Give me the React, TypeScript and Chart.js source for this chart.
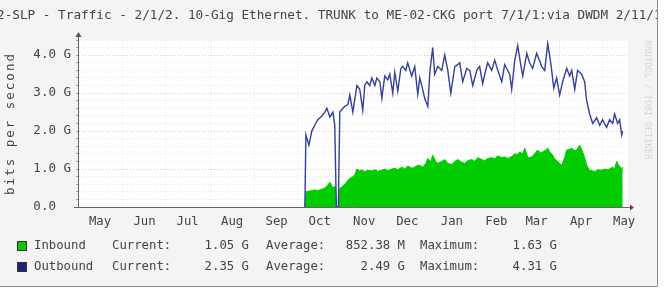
import React, { useEffect, useRef } from 'react';
import { Chart, registerables } from 'chart.js';
Chart.register(...registerables);

const TITLE = '2-SLP - Traffic - 2/1/2. 10-Gig Ethernet. TRUNK to ME-02-CKG port 7/1/1:via DWDM 2/11/1';
const Y_TITLE = 'bits per second';
const WATERMARK = 'RRDTOOL / TOBI OETIKER';

const MONTH_LABELS = ['May', 'Jun', 'Jul', 'Aug', 'Sep', 'Oct', 'Nov', 'Dec', 'Jan', 'Feb', 'Mar', 'Apr', 'May'];
const MONTH_START_DAYS = [0, 31, 61, 92, 123, 153, 184, 214, 245, 276, 304, 335, 365];
const X_MIN_DAY = 0;
const X_MAX_DAY = 383;

const Y_MAX = 4.4;
const Y_GRID_VALUES = [0, 0.2, 0.4, 0.6, 0.8, 1, 1.2, 1.4, 1.6, 1.8, 2, 2.2, 2.4, 2.6, 2.8, 3, 3.2, 3.4, 3.6, 3.8, 4, 4.2, 4.4];
const Y_LABELED = [0, 1, 2, 3, 4];
const Y_LABELS = ['0.0  ', '1.0 G', '2.0 G', '3.0 G', '4.0 G'];

// Outbound (Gbit/s), day index counted from May 1
const OUT_DAYS = [158.0, 158.7, 160.8, 162.8, 164.9, 167.0, 169.8, 171.9, 173.3, 175.4, 177.5, 178.8, 179.9, 181.3, 182.3, 184.4, 185.8, 187.9, 189.3, 191.4, 194.2, 196.2, 198.3, 199.7, 201.1, 203.2, 204.6, 206.7, 208.1, 210.2, 211.6, 213.6, 215.7, 217.1, 219.2, 220.6, 222.7, 224.8, 226.2, 228.3, 229.6, 232.4, 234.5, 236.6, 238.0, 239.4, 241.5, 243.6, 245.0, 247.0, 248.4, 250.5, 253.3, 255.4, 257.5, 259.6, 262.4, 264.4, 265.8, 267.9, 270.7, 272.8, 274.9, 277.7, 279.7, 281.8, 283.9, 285.3, 288.1, 290.2, 292.3, 295.1, 297.1, 298.5, 300.6, 302.0, 304.1, 306.2, 308.3, 309.7, 312.5, 314.5, 316.6, 319.4, 321.5, 322.9, 325.0, 327.1, 329.2, 331.3, 333.3, 335.4, 337.5, 340.3, 342.4, 343.8, 345.9, 347.9, 350.7, 352.8, 354.2, 356.3, 358.4, 361.2, 363.3, 365.3, 368.1, 370.2, 372.3, 373.7, 375.8, 377.2, 378.6, 379.3];
const OUT_GBPS = [0, 1.9, 1.63, 2.0, 2.16, 2.3, 2.4, 2.5, 2.6, 2.37, 2.5, 2.15, 0, 0, 2.5, 2.6, 2.65, 2.7, 2.95, 2.5, 3.2, 3.1, 2.55, 3.2, 3.3, 3.2, 3.4, 3.2, 3.4, 3.3, 2.87, 3.45, 3.35, 3.5, 3.0, 3.55, 3.05, 3.65, 3.7, 3.6, 3.8, 3.45, 3.7, 2.97, 3.4, 3.2, 2.85, 2.65, 3.55, 4.2, 3.5, 3.7, 3.6, 4.0, 3.6, 3.0, 3.7, 3.75, 3.8, 3.3, 3.65, 3.6, 3.2, 3.6, 3.7, 3.25, 3.6, 3.8, 3.6, 3.87, 3.6, 3.3, 3.75, 3.65, 3.5, 3.1, 3.85, 4.25, 3.75, 3.45, 4.05, 3.8, 3.65, 4.05, 3.85, 3.7, 3.6, 4.31, 3.8, 3.13, 3.4, 2.95, 3.3, 3.65, 3.45, 3.6, 3.1, 3.6, 3.5, 3.3, 2.8, 2.45, 2.2, 2.35, 2.15, 2.3, 2.1, 2.3, 2.2, 2.45, 2.2, 2.3, 1.9, 2.0];

// Inbound (Gbit/s)
const IN_DAYS = [158.0, 158.7, 161.5, 164.9, 167.0, 169.8, 171.9, 173.3, 175.4, 177.5, 179.2, 179.9, 181.3, 182.0, 184.4, 185.8, 187.9, 189.3, 191.4, 192.8, 194.2, 196.2, 197.6, 199.7, 201.8, 204.6, 206.7, 208.8, 211.6, 213.6, 215.7, 218.5, 220.6, 222.7, 225.5, 227.6, 229.6, 232.4, 234.5, 236.6, 238.0, 240.1, 242.2, 243.6, 245.7, 247.0, 249.1, 250.5, 253.3, 255.4, 257.5, 260.3, 262.4, 264.4, 267.2, 269.3, 271.4, 274.2, 276.3, 278.4, 281.1, 283.2, 285.3, 288.1, 290.2, 292.3, 295.1, 297.1, 299.2, 300.6, 302.7, 304.1, 306.2, 307.6, 309.7, 311.1, 313.2, 316.0, 318.0, 320.1, 322.2, 323.6, 325.7, 327.1, 328.5, 329.9, 331.9, 334.0, 336.8, 338.9, 340.3, 342.4, 343.8, 345.9, 347.3, 349.4, 351.4, 352.8, 354.2, 356.3, 358.4, 359.8, 361.9, 364.7, 366.7, 368.8, 370.9, 372.3, 373.7, 375.1, 376.5, 377.9, 378.6, 379.3];
const IN_GBPS = [0, 0.4, 0.42, 0.45, 0.43, 0.47, 0.5, 0.55, 0.65, 0.5, 0.55, 0, 0, 0.48, 0.55, 0.6, 0.7, 0.75, 0.8, 0.85, 1.0, 0.95, 0.98, 0.93, 0.97, 0.95, 0.98, 0.94, 0.97, 1.0, 0.96, 1.0, 1.02, 0.98, 1.05, 1.0, 1.08, 1.02, 1.05, 1.1, 1.1, 1.05, 1.15, 1.28, 1.2, 1.37, 1.2, 1.15, 1.2, 1.25, 1.15, 1.12, 1.2, 1.25, 1.18, 1.15, 1.22, 1.25, 1.2, 1.3, 1.25, 1.22, 1.28, 1.3, 1.27, 1.35, 1.3, 1.32, 1.28, 1.3, 1.35, 1.4, 1.38, 1.45, 1.4, 1.55, 1.3, 1.32, 1.4, 1.5, 1.42, 1.45, 1.5, 1.55, 1.45, 1.4, 1.28, 1.2, 1.1, 1.3, 1.5, 1.52, 1.55, 1.48, 1.5, 1.63, 1.45, 1.3, 1.1, 0.97, 0.95, 0.93, 0.98, 0.97, 1.0, 0.98, 1.02, 1.05, 1.0, 1.2, 1.1, 1.05, 0.95, 1.05];

const LEGEND_NAMES = ['Inbound', 'Outbound'];
const LEGEND_COLORS = ['#00cc00', '#1a237e'];
const LEGEND_CURRENT = ['1.05 G', '2.35 G'];
const LEGEND_AVERAGE = ['852.38 M', '2.49 G'];
const LEGEND_MAXIMUM = ['1.63 G', '4.31 G'];

const MONO = '"DejaVu Sans Mono", monospace';
const TEXT = '#444';

export default function App() {
  const ref = useRef<HTMLCanvasElement>(null);

  useEffect(() => {
    document.body.style.margin = '0';
    const canvas = ref.current!;

    const decor = {
      id: 'decor',
      beforeDraw(chart: any) {
        const { ctx, chartArea: a, width, height } = chart;
        ctx.save();
        ctx.fillStyle = '#ffffff';
        ctx.fillRect(0, 0, width, height);
        ctx.fillStyle = '#f4f4f4';
        ctx.fillRect(0, 0, 657, 286);
        ctx.fillStyle = '#ffffff';
        ctx.fillRect(a.left, a.top, a.right - a.left, a.bottom - a.top);
        // frame
        ctx.strokeStyle = '#8a8a8a';
        ctx.lineWidth = 1;
        ctx.beginPath();
        ctx.moveTo(657.5, 0);
        ctx.lineTo(657.5, 286.5);
        ctx.lineTo(0, 286.5);
        ctx.stroke();
        // title
        ctx.save();
        ctx.beginPath();
        ctx.rect(0, 0, 657, 30);
        ctx.clip();
        ctx.fillStyle = TEXT;
        ctx.font = `12.7px ${MONO}`;
        ctx.textBaseline = 'middle';
        ctx.textAlign = 'left';
        ctx.fillText(TITLE, -3, 16);
        ctx.restore();
        // y title
        ctx.save();
        ctx.translate(11, (a.top + a.bottom) / 2);
        ctx.rotate(-Math.PI / 2);
        ctx.fillStyle = TEXT;
        ctx.font = `12.5px ${MONO}`;
        (ctx as any).letterSpacing = '2px';
        ctx.textAlign = 'center';
        ctx.textBaseline = 'middle';
        ctx.fillText(Y_TITLE, 0, 0);
        ctx.restore();
        // watermark
        ctx.save();
        ctx.translate(647, 100);
        ctx.rotate(Math.PI / 2);
        ctx.fillStyle = 'rgba(0,0,0,0.13)';
        ctx.font = `9px ${MONO}`;
        ctx.textAlign = 'center';
        ctx.textBaseline = 'middle';
        ctx.fillText(WATERMARK, 0, 0);
        ctx.restore();
        ctx.restore();
      },
      afterDraw(chart: any) {
        const { ctx, chartArea: a } = chart;
        ctx.save();
        // y arrow
        ctx.strokeStyle = '#666';
        ctx.fillStyle = '#555';
        ctx.lineWidth = 1;
        ctx.beginPath();
        ctx.moveTo(a.left + 0.5, a.top);
        ctx.lineTo(a.left + 0.5, a.top - 5);
        ctx.stroke();
        ctx.beginPath();
        ctx.moveTo(a.left - 2.5, a.top - 3);
        ctx.lineTo(a.left + 3.5, a.top - 3);
        ctx.lineTo(a.left + 0.5, a.top - 8);
        ctx.closePath();
        ctx.fill();
        // x axis extension & arrow
        ctx.beginPath();
        ctx.moveTo(a.left - 4, a.bottom + 0.5);
        ctx.lineTo(a.left, a.bottom + 0.5);
        ctx.stroke();
        ctx.strokeStyle = '#a05060';
        ctx.beginPath();
        ctx.moveTo(a.right, a.bottom + 0.5);
        ctx.lineTo(a.right + 3, a.bottom + 0.5);
        ctx.stroke();
        ctx.fillStyle = '#8a3050';
        ctx.beginPath();
        ctx.moveTo(a.right + 2, a.bottom - 2.5);
        ctx.lineTo(a.right + 2, a.bottom + 3.5);
        ctx.lineTo(a.right + 6, a.bottom + 0.5);
        ctx.closePath();
        ctx.fill();
        // legend
        const rowsY = [246, 267];
        ctx.font = `12.3px ${MONO}`;
        ctx.textBaseline = 'middle';
        LEGEND_NAMES.forEach((name, i) => {
          const y = rowsY[i];
          ctx.fillStyle = LEGEND_COLORS[i];
          ctx.fillRect(17, y - 5, 10, 10);
          ctx.strokeStyle = '#333';
          ctx.strokeRect(17.5, y - 4.5, 9, 9);
          ctx.fillStyle = TEXT;
          ctx.textAlign = 'left';
          ctx.fillText(name, 34, y);
          ctx.fillText('Current:', 112, y);
          ctx.fillText('Average:', 266, y);
          ctx.fillText('Maximum:', 420, y);
          ctx.textAlign = 'right';
          ctx.fillText(LEGEND_CURRENT[i], 249, y);
          ctx.fillText(LEGEND_AVERAGE[i], 405, y);
          ctx.fillText(LEGEND_MAXIMUM[i], 557, y);
        });
        ctx.restore();
      },
    };

    const isMajor = (v: number) => Y_LABELED.some((m) => Math.abs(m - v) < 1e-6);

    const chart = new Chart(canvas, {
      type: 'line',
      data: {
        datasets: [
          {
            label: 'Outbound',
            data: OUT_DAYS.map((d, i) => ({ x: d, y: OUT_GBPS[i] })),
            borderColor: '#34409a',
            borderWidth: 1.4,
            pointRadius: 0,
            fill: false,
            tension: 0,
          },
          {
            label: 'Inbound',
            data: IN_DAYS.map((d, i) => ({ x: d, y: IN_GBPS[i] })),
            borderColor: '#00cc00',
            backgroundColor: '#00cc00',
            borderWidth: 1,
            pointRadius: 0,
            fill: 'origin',
            tension: 0,
          },
        ],
      },
      options: {
        responsive: false,
        animation: false,
        layout: { padding: { left: 4, right: 37, top: 40, bottom: 53 } },
        plugins: { legend: { display: false }, tooltip: { enabled: false }, title: { display: false } },
        scales: {
          x: {
            type: 'linear',
            min: X_MIN_DAY,
            max: X_MAX_DAY,
            afterBuildTicks: (s: any) => {
              s.ticks = MONTH_START_DAYS.map((v) => ({ value: v }));
            },
            afterFit: (s: any) => {
              s.height = 30;
            },
            ticks: {
              autoSkip: false,
              maxRotation: 0,
              minRotation: 0,
              labelOffset: 22,
              padding: 7,
              color: TEXT,
              font: { family: MONO, size: 12.3 },
              callback: (_v: any, i: number) => MONTH_LABELS[i] ?? '',
            },
            grid: { color: 'rgba(0,0,0,0.10)', tickLength: 0, lineWidth: 1 },
            border: { display: true, color: '#666', width: 1, dash: [1, 2] },
          },
          y: {
            type: 'linear',
            min: 0,
            max: Y_MAX,
            afterBuildTicks: (s: any) => {
              s.ticks = Y_GRID_VALUES.map((v) => ({ value: v }));
            },
            afterFit: (s: any) => {
              s.width = 74;
            },
            ticks: {
              autoSkip: false,
              crossAlign: 'near',
              padding: 5,
              color: TEXT,
              font: { family: MONO, size: 12.5 },
              callback: (v: any) => {
                const idx = Y_LABELED.findIndex((m) => Math.abs(m - v) < 1e-6);
                return idx >= 0 ? Y_LABELS[idx] : '';
              },
            },
            grid: {
              tickLength: 2,
              color: (c: any) => {
                const v = c.tick ? c.tick.value : 0;
                if (Math.abs(v) < 1e-6) return 'rgba(0,0,0,0)';
                return isMajor(v) ? 'rgba(220,110,110,0.45)' : 'rgba(0,0,0,0.09)';
              },
              tickColor: 'rgba(0,0,0,0.35)',
            },
            border: { display: true, color: '#666', width: 1, dash: [1, 2] },
          },
        },
      },
      plugins: [decor],
    } as any);

    return () => chart.destroy();
  }, []);

  return <canvas ref={ref} width={665} height={290} style={{ display: 'block' }} />;
}
